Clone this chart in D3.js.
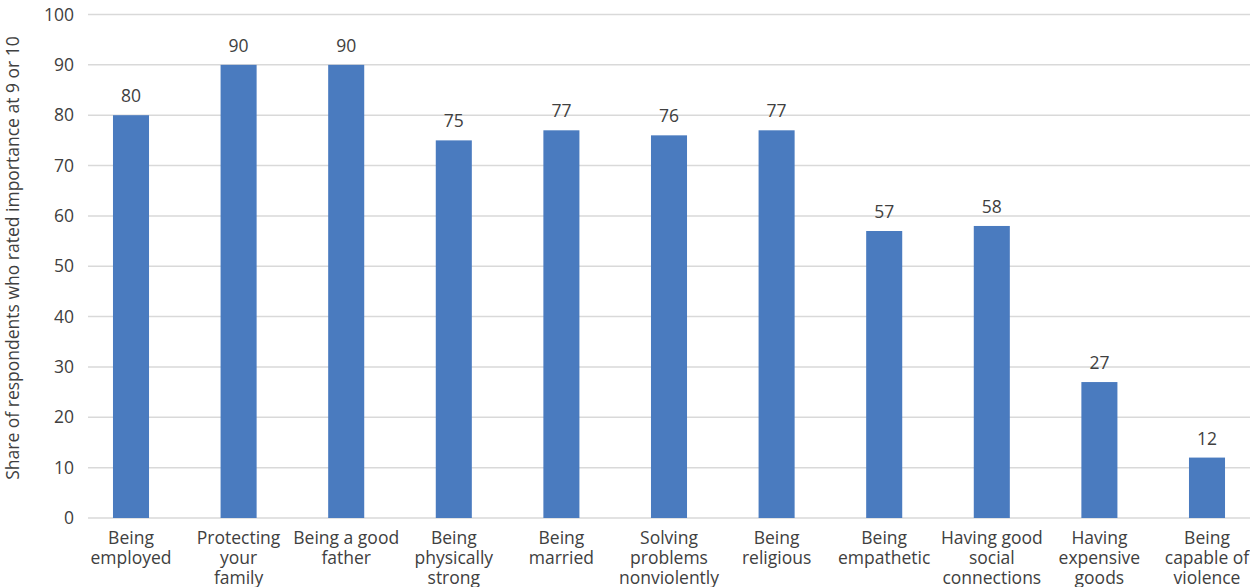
<!DOCTYPE html>
<html>
<head>
<meta charset="utf-8">
<script src="https://cdn.jsdelivr.net/npm/d3@7"></script>
<style>
	body {margin: 0; background: #fff;}
	svg {display: block; font-family: 'Open Sans', sans-serif;}
</style>
</head>
<body>
<svg id="chart" width="1250" height="587"></svg>
<script>
(function() {
	'use strict';

	var categories = [
		['Being', 'employed'],
		['Protecting', 'your', 'family'],
		['Being a good', 'father'],
		['Being', 'physically', 'strong'],
		['Being', 'married'],
		['Solving', 'problems', 'nonviolently'],
		['Being', 'religious'],
		['Being', 'empathetic'],
		['Having good', 'social', 'connections'],
		['Having', 'expensive', 'goods'],
		['Being', 'capable of', 'violence']];
	var values = [80, 90, 90, 75, 77, 76, 77, 57, 58, 27, 12];
	var yTicks = [0, 10, 20, 30, 40, 50, 60, 70, 80, 90, 100];
	var yTitle = 'Share of respondents who rated importance at 9 or 10';

	var svg = d3.select('#chart');
	var textColor = '#404040';

	var x = d3.scaleBand()
		.domain(d3.range(categories.length))
		.range([77.2, 1260.8])
		.padding(0);
	var barW = x.bandwidth() * 0.335;

	var y = d3.scaleLinear().domain([0, 100]).range([518, 14.5]);

	// Gridlines.
	svg.append('g').selectAll('line')
		.data(yTicks)
		.join('line')
		.attr('x1', 88).attr('x2', 1250)
		.attr('y1', function(d) {return y(d);})
		.attr('y2', function(d) {return y(d);})
		.attr('stroke', '#d9d9d9')
		.attr('stroke-width', 1.5);

	// Y tick labels.
	svg.append('g').selectAll('text')
		.data(yTicks)
		.join('text')
		.attr('x', 74)
		.attr('y', function(d) {return y(d);})
		.attr('dy', '0.35em')
		.attr('text-anchor', 'end')
		.attr('font-size', 17.5)
		.attr('fill', textColor)
		.text(function(d) {return d;});

	// Bars.
	svg.append('g').selectAll('rect')
		.data(values)
		.join('rect')
		.attr('x', function(d, i) {return x(i) + (x.bandwidth() - barW) / 2;})
		.attr('y', function(d) {return y(d);})
		.attr('width', barW)
		.attr('height', function(d) {return y(0) - y(d);})
		.attr('fill', '#4a7bbf');

	// Value labels.
	svg.append('g').selectAll('text')
		.data(values)
		.join('text')
		.attr('x', function(d, i) {return x(i) + x.bandwidth() / 2;})
		.attr('y', function(d) {return y(d) - 13;})
		.attr('text-anchor', 'middle')
		.attr('font-size', 17.5)
		.attr('fill', textColor)
		.text(function(d) {return d;});

	// Category labels.
	var cat = svg.append('g').selectAll('text')
		.data(categories)
		.join('text')
		.attr('text-anchor', 'middle')
		.attr('font-size', 17.5)
		.attr('fill', textColor);
	cat.each(function(lines, i) {
		d3.select(this).selectAll('tspan')
			.data(lines)
			.join('tspan')
			.attr('x', x(i) + x.bandwidth() / 2)
			.attr('y', function(d, j) {return 544 + j * 20;})
			.text(function(d) {return d;});});

	// Axis title.
	svg.append('text')
		.attr('transform', 'translate(19,258) rotate(-90)')
		.attr('text-anchor', 'middle')
		.attr('font-size', 17.5)
		.attr('fill', textColor)
		.text(yTitle);
})();
</script>
</body>
</html>
